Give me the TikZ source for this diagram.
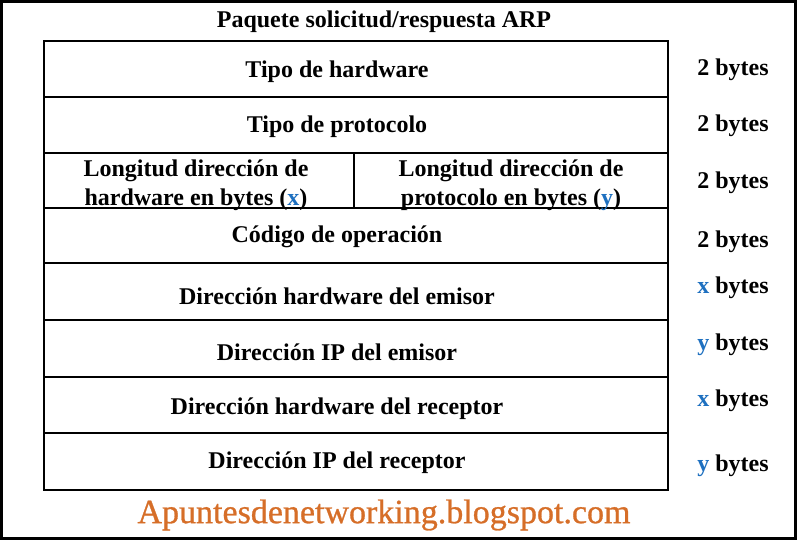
\documentclass[tikz,border=0pt]{standalone}
\usepackage{fontspec}
\setmainfont{Liberation Serif}[BoldFont={Liberation Serif Bold}]
\newfontfamily\footfont{Liberation Serif}[FakeBold=0.8]
\definecolor{varblue}{RGB}{30,112,192}
\definecolor{footorange}{RGB}{214,110,40}
\newcommand{\vx}{{\color{varblue}x}}
\newcommand{\vy}{{\color{varblue}y}}
\begin{document}
\begin{tikzpicture}[x=0.75pt,y=-0.75pt,
  cell/.style={font=\fontsize{18}{21.5}\selectfont\bfseries, align=center, inner sep=0pt},
  size/.style={font=\fontsize{18}{21.5}\selectfont\bfseries, inner sep=0pt},
  rowline/.style={draw=black, line width=0.8pt}]
\useasboundingbox (0,0) rectangle (799,542);
\draw[line width=2.25pt] (1.5,1.5) rectangle (795.5,538.5);
% table
\draw[rowline] (44,41) rectangle (668,490);
\foreach \yy in {97,153,208,263,320,377,433} \draw[rowline] (44,\yy) -- (668,\yy);
\coordinate (d1) at (354,153);
\coordinate (d2) at (354,208);
\draw[rowline] (d1) -- (d2);
% texts
\node[cell] (title) at (384,22) {Paquete solicitud/respuesta ARP};
\node[cell] (r1) at (337,72) {Tipo de hardware};
\node[cell] (r2) at (337,127) {Tipo de protocolo};
\node[cell] (r3a) at (196,185) {Longitud dirección de\\hardware en bytes (\vx)};
\node[cell] (r3b) at (511,185) {Longitud dirección de\\protocolo en bytes (\vy)};
\node[cell] (r4) at (337,237) {Código de operación};
\node[cell] (r5) at (337,296) {Dirección hardware del emisor};
\node[cell] (r6) at (337,352) {Dirección IP del emisor};
\node[cell] (r7) at (337,409) {Dirección hardware del receptor};
\node[cell] (r8) at (337,463) {Dirección IP del receptor};
% sizes
\node[size] (s1) at (733,70) {2 bytes};
\node[size] (s2) at (733,126) {2 bytes};
\node[size] (s3) at (733,183) {2 bytes};
\node[size] (s4) at (733,242) {2 bytes};
\node[size] (s5) at (733,288) {\vx{} bytes};
\node[size] (s6) at (733,345) {\vy{} bytes};
\node[size] (s7) at (733,401) {\vx{} bytes};
\node[size] (s8) at (733,466) {\vy{} bytes};
% footer
\node[font=\footfont\fontsize{25.5}{29}\selectfont, text=footorange, inner sep=0pt] (foot) at (384,515) {Apuntesdenetworking.blogspot.com};
\end{tikzpicture}
\end{document}
